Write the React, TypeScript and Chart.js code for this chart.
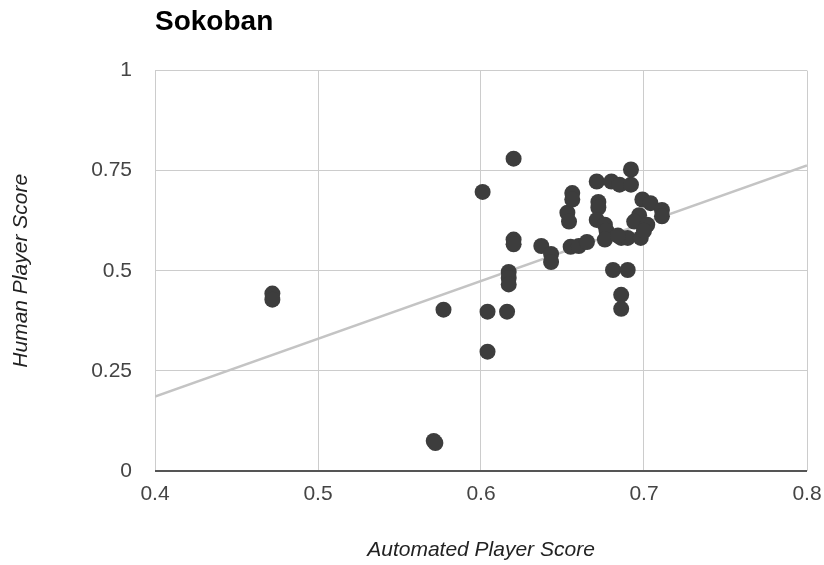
import React, { useEffect, useRef } from "react";
import { Chart, registerables } from "chart.js";

Chart.register(...registerables);

const chartTitle = "Sokoban";
const xAxisTitle = "Automated Player Score";
const yAxisTitle = "Human Player Score";

const xTickValues = [0.4, 0.5, 0.6, 0.7, 0.8];
const yTickValues = [0, 0.25, 0.5, 0.75, 1];

const automatedScores = [
  0.472, 0.472, 0.571, 0.572, 0.577, 0.601, 0.604, 0.604, 0.616, 0.617,
  0.617, 0.617, 0.62, 0.62, 0.62, 0.637, 0.643, 0.643, 0.653, 0.654,
  0.655, 0.656, 0.656, 0.66, 0.665, 0.671, 0.672, 0.672, 0.671, 0.676,
  0.677, 0.676, 0.68, 0.685, 0.692, 0.692, 0.681, 0.69, 0.686, 0.686,
  0.686, 0.69, 0.698, 0.699, 0.704, 0.711, 0.711, 0.697, 0.694, 0.702,
  0.7, 0.684,
];
const humanScores = [
  0.443, 0.428, 0.075, 0.07, 0.403, 0.697, 0.398, 0.298, 0.398, 0.497,
  0.482, 0.466, 0.78, 0.578, 0.566, 0.562, 0.542, 0.522, 0.645, 0.623,
  0.56, 0.694, 0.678, 0.562, 0.572, 0.723, 0.672, 0.658, 0.627, 0.615,
  0.6, 0.578, 0.723, 0.715, 0.715, 0.753, 0.502, 0.502, 0.44, 0.405,
  0.582, 0.582, 0.582, 0.678, 0.669, 0.652, 0.636, 0.639, 0.623, 0.615,
  0.6, 0.588,
];

const trendX = [0.4, 0.8];
const trendY = [0.186, 0.763];

const FONT = "'Liberation Sans', Arial, sans-serif";

export default function App() {
  const canvasRef = useRef<HTMLCanvasElement | null>(null);

  useEffect(() => {
    if (!canvasRef.current) return;
    const points = automatedScores.map((x, i) => ({ x, y: humanScores[i] }));
    const trend = trendX.map((x, i) => ({ x, y: trendY[i] }));

    const chart = new Chart(canvasRef.current, {
      type: "scatter",
      data: {
        datasets: [
          {
            type: "scatter",
            label: "Scores",
            data: points,
            backgroundColor: "#3d3d3d",
            borderWidth: 0,
            pointRadius: 8,
            pointHoverRadius: 8,
          },
          {
            type: "line",
            label: "Trend",
            data: trend,
            borderColor: "#c4c4c4",
            borderWidth: 2.5,
            pointRadius: 0,
            fill: false,
          },
        ],
      },
      options: {
        animation: false,
        responsive: false,
        devicePixelRatio: 1,
        layout: { padding: { left: 0, right: 17, top: 0, bottom: 0 } },
        plugins: {
          legend: { display: false },
          tooltip: { enabled: false },
          title: {
            display: true,
            text: chartTitle,
            align: "start",
            fullSize: false,
            color: "#000",
            font: { family: FONT, size: 28, weight: "bold" },
            padding: { top: 5, bottom: 32 },
          },
        },
        scales: {
          x: {
            type: "linear",
            min: 0.4,
            max: 0.8,
            afterBuildTicks: (scale: any) => {
              scale.ticks = xTickValues.map((v) => ({ value: v }));
            },
            afterFit: (scale: any) => {
              scale.height = 94;
              scale.paddingLeft = 0;
              scale.paddingRight = 0;
            },
            border: { display: false },
            grid: { color: "#cccccc", lineWidth: 1, drawTicks: false },
            ticks: {
              color: "#444",
              font: { family: FONT, size: 21 },
              padding: 11,
              maxRotation: 0,
              autoSkip: false,
              callback: (v: any) => String(v),
            },
            title: {
              display: true,
              text: xAxisTitle,
              color: "#222",
              font: { family: FONT, size: 21, style: "italic" },
              padding: { top: 0, bottom: 2.4 },
            },
          },
          y: {
            type: "linear",
            min: 0,
            max: 1,
            afterBuildTicks: (scale: any) => {
              scale.ticks = yTickValues.map((v) => ({ value: v }));
            },
            afterFit: (scale: any) => {
              scale.width = 155;
              scale.paddingTop = 0;
              scale.paddingBottom = 0;
            },
            border: { display: false },
            grid: {
              color: (ctx: any) => (ctx.tick && ctx.tick.value === 0 ? "#555555" : "#cccccc"),
              lineWidth: (ctx: any) => (ctx.tick && ctx.tick.value === 0 ? 2 : 1),
              drawTicks: false,
            },
            ticks: {
              color: "#444",
              font: { family: FONT, size: 21 },
              padding: 23,
              autoSkip: false,
              callback: (v: any) => String(v),
            },
            title: {
              display: true,
              text: yAxisTitle,
              color: "#222",
              font: { family: FONT, size: 21, style: "italic" },
              padding: { top: 8.4, bottom: 0 },
            },
          },
        },
      },
    } as any);

    return () => chart.destroy();
  }, []);

  return (
    <div style={{ position: "absolute", left: 0, top: 0, width: 824, height: 565, background: "#fff" }}>
      <canvas ref={canvasRef} width={824} height={565} style={{ display: "block" }} />
    </div>
  );
}
